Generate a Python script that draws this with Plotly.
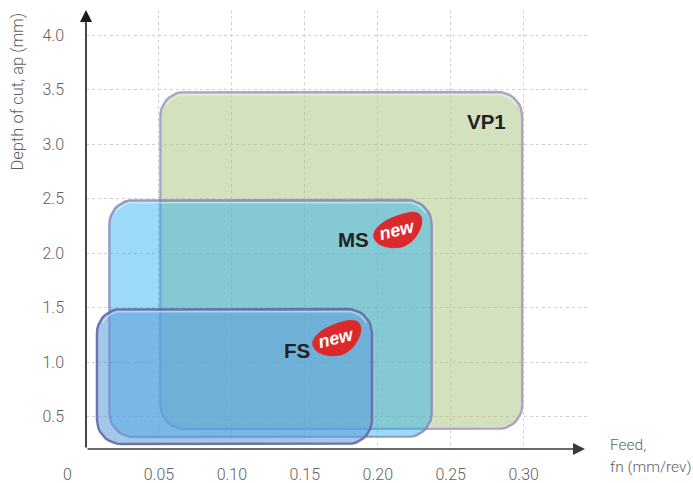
import numpy as np
import plotly.graph_objects as go

# Data (feed in mm/rev, depth of cut in mm)
feed_ticks = [0.05, 0.10, 0.15, 0.20, 0.25, 0.30]
feed_labels = ["0.05", "0.10", "0.15", "0.20", "0.25", "0.30"]
depth_ticks = [0.5, 1.0, 1.5, 2.0, 2.5, 3.0, 3.5, 4.0]
depth_labels = ["0.5", "1.0", "1.5", "2.0", "2.5", "3.0", "3.5", "4.0"]
series_names = ["VP1", "MS", "FS"]
feed_min = [0.051, 0.016, 0.0075]
feed_max = [0.299, 0.237, 0.196]
depth_min = [0.385, 0.312, 0.248]
depth_max = [3.477, 2.486, 1.486]
label_feed = [0.2745, 0.1835, 0.1445]
label_depth = [3.21, 2.125, 1.11]
new_feed = [None, 0.2133, 0.1715]
new_depth = [None, 2.211, 1.22]

W, H = 693, 483
L, R, T, B = 85.6, 106, 10, 34
X_RANGE = [0, (W - R - L) / 73 * 0.05]
Y_RANGE = [(471 - (H - B)) / 109, (471 - T) / 109]
PX = 0.05 / 73   # data units per pixel, horizontal
PY = 1 / 109     # data units per pixel, vertical

fills = ["rgba(170,195,125,0.5)", "rgba(35,173,237,0.45)", "rgba(93,156,217,0.57)"]
edges = ["rgba(165,160,200,0.95)", "rgba(130,130,175,0.75)", "rgba(105,110,165,0.95)"]
GREY = "#5f5f5f"
FONT = "Roboto"
BOLD = "Liberation Sans"


def rounded(x0, x1, y0, y1, r=24):
    rx, ry = r * PX, r * PY
    a = np.linspace(0, np.pi / 2, 10)
    xs = np.concatenate([x1 - rx + rx * np.cos(a), x0 + rx - rx * np.sin(a),
                         x0 + rx - rx * np.cos(a), x1 - rx + rx * np.sin(a), [x1]])
    ys = np.concatenate([y1 - ry + ry * np.sin(a), y1 - ry + ry * np.cos(a),
                         y0 + ry - ry * np.sin(a), y0 + ry - ry * np.cos(a), [y1 - ry]])
    return xs, ys


fig = go.Figure()
for i, name in enumerate(series_names):
    xs, ys = rounded(feed_min[i], feed_max[i], depth_min[i], depth_max[i])
    fig.add_trace(go.Scatter(x=xs, y=ys, mode="lines", fill="toself", fillcolor=fills[i],
                             line=dict(color=edges[i], width=2.4), name=name,
                             hoverinfo="name", showlegend=False))
    # pale bevel just inside the top edge
    hx, hy = rounded(feed_min[i] + 2.5 * PX, feed_max[i] - 2.5 * PX,
                     depth_min[i] + 2.5 * PY, depth_max[i] - 2.5 * PY, r=22)
    keep = hy > depth_max[i] - 16 * PY
    hx2 = np.where(keep, hx, np.nan)
    fig.add_trace(go.Scatter(x=hx2, y=np.where(keep, hy, np.nan), mode="lines",
                             line=dict(color="rgba(255,255,255,0.45)", width=1.5),
                             hoverinfo="skip", showlegend=False))

annotations = []
for i, name in enumerate(series_names):
    annotations.append(dict(x=label_feed[i], y=label_depth[i], text=f"<b>{name}</b>", showarrow=False,
                            font=dict(family=BOLD, size=20.5, color="#222222")))

shapes = []
blob = ("M -24,-5 C -22,5 -8,14 13,18 C 22,19 26,14 25,7 "
        "C 23,-5 12,-18 0,-18 C -12,-19 -24,-14 -24,-5 Z")
for fx, dy in zip(new_feed, new_depth):
    if fx is None:
        continue
    shapes.append(dict(type="path", path=blob, xref="x", yref="y", xsizemode="pixel", ysizemode="pixel",
                       xanchor=fx, yanchor=dy, fillcolor="#dc2a2c", line=dict(width=0), layer="above"))
    annotations.append(dict(x=fx, y=dy, text="<b><i>new</i></b>", showarrow=False, textangle=-14,
                            font=dict(family=BOLD, size=18, color="white")))

# axis arrows
annotations.append(dict(x=0, y=Y_RANGE[1], ax=0, ay=Y_RANGE[0], xref="x", yref="y", axref="x", ayref="y",
                        text="", showarrow=True, arrowhead=2, arrowsize=1.5, arrowwidth=1.6, arrowcolor="#1a1a1a"))
annotations.append(dict(x=X_RANGE[1] - 2 * PX, y=Y_RANGE[0], ax=0, ay=Y_RANGE[0], xref="x", yref="y", axref="x",
                        ayref="y", text="", showarrow=True, arrowhead=2, arrowsize=1.5, arrowwidth=1.6,
                        arrowcolor="#3a3a3a"))
# zero label and axis titles
annotations.append(dict(x=0, y=Y_RANGE[0], xshift=-19, yshift=-25, text="0", showarrow=False,
                        font=dict(family=FONT, size=16, weight=300, color=GREY)))
annotations.append(dict(xref="paper", yref="y", x=0, xshift=-69.5, xanchor="center", y=(471 - 92) / 109,
                        yanchor="middle", text="Depth of cut, ap (mm)", textangle=-90, showarrow=False,
                        font=dict(family=FONT, size=16.5, weight=300, color=GREY)))
annotations.append(dict(xref="paper", yref="paper", x=1, xshift=21, y=0, yshift=4, xanchor="left",
                        yanchor="middle", align="left", text="Feed,", showarrow=False,
                        font=dict(family=FONT, size=15.5, weight=300, color=GREY)))
annotations.append(dict(xref="paper", yref="paper", x=1, xshift=21, y=0, yshift=-18, xanchor="left",
                        yanchor="middle", align="left", text="fn (mm/rev)", showarrow=False,
                        font=dict(family=FONT, size=15.5, weight=300, color=GREY)))

grid = dict(showgrid=True, gridcolor="#d2d2d2", griddash="3px,3px", gridwidth=1, zeroline=False,
            showline=False, ticks="", automargin=False,
            tickfont=dict(family=FONT, size=16, weight=300, color=GREY))
fig.update_layout(
    width=W, height=H, autosize=False, margin=dict(l=L, r=R, t=T, b=B),
    paper_bgcolor="white", plot_bgcolor="white", showlegend=False,
    xaxis=dict(range=X_RANGE, tickvals=feed_ticks, ticktext=feed_labels, ticklabelstandoff=14, **grid),
    yaxis=dict(range=Y_RANGE, tickvals=depth_ticks, ticktext=depth_labels, ticklabelstandoff=21, **grid),
    shapes=shapes, annotations=annotations,
)
fig.write_html("out.html", config=dict(displayModeBar=False),
               post_script="document.body.style.margin='0';")
